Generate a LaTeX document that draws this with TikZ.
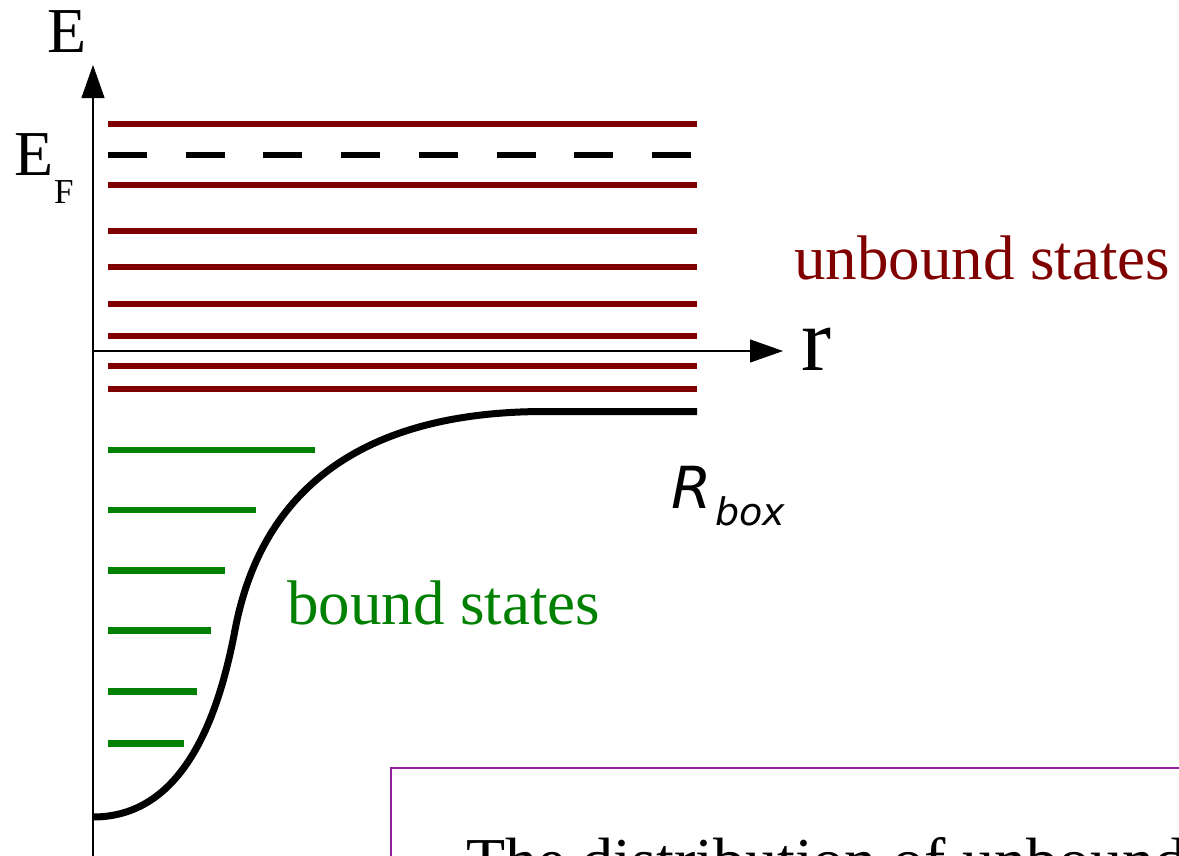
\documentclass[tikz,border=0pt]{standalone}
\usepackage{fontspec}
\setmainfont{Liberation Serif}
\newfontfamily\dejavu{DejaVu Sans}
\usetikzlibrary{arrows.meta}
\definecolor{unbd}{HTML}{800000}
\definecolor{bnd}{HTML}{008000}
\definecolor{boxc}{RGB}{150,30,160}
\begin{document}
\begin{tikzpicture}[x=1pt,y=-1pt,
  lvl/.style={line width=6.5pt},
  ulvl/.style={lvl,draw=unbd},
  blvl/.style={lvl,draw=bnd},
  axisline/.style={line width=1.1pt, draw=black, -{Triangle[length=33pt,width=23pt]}},
  lbl/.style={inner sep=0pt, anchor=base west},
  big/.style={font=\fontsize{64}{64}\selectfont},
]
\useasboundingbox (0,0) rectangle (1179,855);
\clip (0,0) rectangle (1179,855);

% axes
\coordinate (o) at (93,351);
\coordinate (ytop) at (93,65);
\coordinate (ybot) at (93,870);
\coordinate (xend) at (783,351);
\draw[axisline] (ybot) -- (ytop);
\draw[axisline] (o) -- (xend);

% unbound levels
\foreach \y in {124,185,231,267,304,336,366,389}
  \draw[ulvl] (108,\y) -- (697,\y);

% Fermi level
\draw[lvl, draw=black, dash pattern=on 39pt off 38.7pt] (108,155) -- (692,155);

% bound levels
\foreach \y/\e in {450/315,510/256,570.5/225,630.5/211,691.5/197,743.5/184}
  \draw[blvl] (108,\y) -- (\e,\y);

% potential
\draw[line width=7pt, line join=round] (93,817) .. controls (182,817) and (218,720) .. (235,630)
  .. controls (256,519) and (330,411.5) .. (545,411.5) -- (697,411.5);

% labels
\node[lbl, big] (E) at (47,52) {E};
\node[lbl, big] (EF) at (14,175) {E};
\node[lbl, font=\fontsize{35}{35}\selectfont] (F) at (54,203) {F};
\node[lbl, font=\fontsize{90}{90}\selectfont] (r) at (801,370) {r};
\node[lbl, font=\fontsize{63}{63}\selectfont, text=unbd] (ub) at (794,279) {unbound states};
\node[lbl, font=\fontsize{63}{63}\selectfont, text=bnd] (bs) at (287,624) {bound states};
\node[lbl, font=\dejavu\itshape\fontsize{58}{58}\selectfont] (R) at (671,508) {R};
\node[lbl, font=\dejavu\itshape\fontsize{38}{38}\selectfont] (box) at (715,525) {box};

% note box
\draw[draw=boxc, line width=1.5pt] (391,768) rectangle (1220,920);
\node[lbl, big] (note) at (466,882) {The distribution of unbound};
\end{tikzpicture}
\end{document}
